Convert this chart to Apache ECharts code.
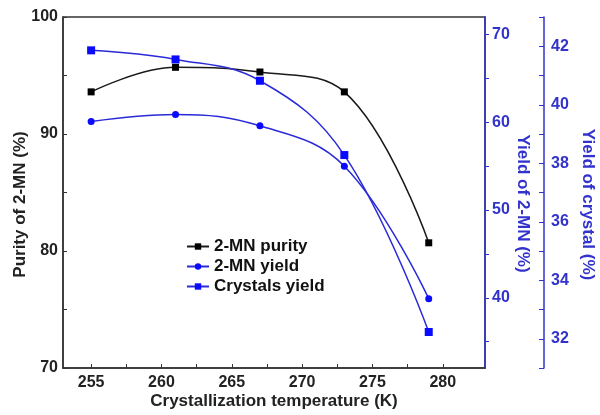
<!DOCTYPE html>
<html><head><meta charset="utf-8">
<script src="https://cdn.jsdelivr.net/npm/echarts@6/dist/echarts.min.js"></script>
<style>html,body{margin:0;padding:0;background:#fff}#c{width:600px;height:415px}</style>
</head><body><div id="c"></div>
<script>
// Data
const temperatures = [255, 261, 267, 273, 279];
const purity = [93.6, 95.7, 95.3, 93.6, 80.7];
const yield2MN = [60.1, 60.9, 59.6, 55.0, 39.9];
const crystalYield = [41.86, 41.55, 40.82, 38.28, 32.23];

const xLabels = [255, 260, 265, 270, 275, 280];
const xTicks = [255, 257.5, 260, 262.5, 265, 267.5, 270, 272.5, 275, 277.5, 280];
const purityLabels = [70, 80, 90, 100];
const purityTicks = [70, 75, 80, 85, 90, 95, 100];
const yieldLabels = [40, 50, 60, 70];
const yieldTicks = [35, 40, 45, 50, 55, 60, 65, 70];
const crystalLabels = [32, 34, 36, 38, 40, 42];
const crystalTicks = [31, 32, 33, 34, 35, 36, 37, 38, 39, 40, 41, 42, 43];

const FONT = '"Liberation Sans", Arial, sans-serif';
const DARK = '#222';
const BLUE = '#3232cc';
const LINEBLUE = '#2a2ad8';
const MARKBLUE = '#0a0aff';

const pairs = arr => temperatures.map((t, i) => [t, arr[i]]);

const chart = echarts.init(document.getElementById('c'), null, {renderer: 'canvas'});
chart.setOption({
  animation: false,
  backgroundColor: '#fff',
  grid: {left: 63, right: 115, top: 17, bottom: 47, containLabel: false, outerBoundsMode: 'none',
         show: true, borderColor: '#333', borderWidth: 1.5, backgroundColor: 'transparent'},
  legend: {
    orient: 'vertical', left: 181, top: 233, itemGap: 3, itemWidth: 22, itemHeight: 8,
    textStyle: {fontFamily: FONT, fontWeight: 'bold', fontSize: 17, color: '#111'},
    data: ['2-MN purity', '2-MN yield', 'Crystals yield']
  },
  xAxis: {
    type: 'value', min: 253, max: 283,
    name: 'Crystallization temperature (K)', nameLocation: 'middle', nameGap: 25, nameMoveOverlap: false,
    nameTextStyle: {fontFamily: FONT, fontWeight: 'bold', fontSize: 17, color: DARK},
    axisLine: {lineStyle: {color: '#333', width: 1.5}},
    axisTick: {inside: true, length: 4, customValues: xTicks, lineStyle: {color: '#333'}},
    axisLabel: {customValues: xLabels, margin: 7, fontFamily: FONT, fontWeight: 'bold', fontSize: 16, color: DARK},
    splitLine: {show: false}
  },
  yAxis: [
    {
      type: 'value', min: 70, max: 100, position: 'left',
      name: 'Purity of 2-MN (%)', nameLocation: 'middle', nameGap: 34, nameRotate: 90, nameMoveOverlap: false,
      nameTextStyle: {fontFamily: FONT, fontWeight: 'bold', fontSize: 17, color: DARK, padding: [0, 24, 0, 0]},
      axisLine: {show: true, lineStyle: {color: '#333', width: 1.5}},
      axisTick: {show: true, inside: true, length: 4, customValues: purityTicks, lineStyle: {color: '#333'}},
      axisLabel: {customValues: purityLabels, margin: 5, fontFamily: FONT, fontWeight: 'bold', fontSize: 16, color: DARK},
      splitLine: {show: false}
    },
    {
      type: 'value', min: 32, max: 72, position: 'right',
      name: 'Yield of 2-MN (%)', nameLocation: 'middle', nameGap: 29, nameRotate: -90, nameMoveOverlap: false,
      nameTextStyle: {fontFamily: FONT, fontWeight: 'bold', fontSize: 17, color: BLUE, padding: [0, 0, 0, 22]},
      axisLine: {show: true, lineStyle: {color: BLUE, width: 1.5}},
      axisTick: {show: true, inside: false, length: 4, customValues: yieldTicks, lineStyle: {color: BLUE}},
      axisLabel: {customValues: yieldLabels, margin: 7, fontFamily: FONT, fontWeight: 'bold', fontSize: 16, color: BLUE},
      splitLine: {show: false}
    },
    {
      type: 'value', min: 31, max: 43, position: 'right', offset: 59,
      name: 'Yield of crystal (%)', nameLocation: 'middle', nameGap: 35, nameRotate: -90, nameMoveOverlap: false,
      nameTextStyle: {fontFamily: FONT, fontWeight: 'bold', fontSize: 17, color: BLUE, padding: [0, 0, 0, 24]},
      axisLine: {show: true, lineStyle: {color: BLUE, width: 1.5}},
      axisTick: {show: true, inside: true, length: 5, customValues: crystalTicks, lineStyle: {color: BLUE}},
      axisLabel: {customValues: crystalLabels, margin: 7, fontFamily: FONT, fontWeight: 'bold', fontSize: 16, color: BLUE},
      splitLine: {show: false}
    }
  ],
  series: [
    {
      name: '2-MN purity', type: 'line', yAxisIndex: 0, data: pairs(purity), smooth: 0.4,
      symbol: 'rect', symbolSize: 7,
      lineStyle: {color: '#1a1a1a', width: 1.5}, itemStyle: {color: '#000'}
    },
    {
      name: '2-MN yield', type: 'line', yAxisIndex: 1, data: pairs(yield2MN), smooth: 0.4,
      symbol: 'circle', symbolSize: 7,
      lineStyle: {color: LINEBLUE, width: 1.5}, itemStyle: {color: MARKBLUE}
    },
    {
      name: 'Crystals yield', type: 'line', yAxisIndex: 2, data: pairs(crystalYield), smooth: 0.4,
      symbol: 'rect', symbolSize: 8,
      lineStyle: {color: LINEBLUE, width: 1.5}, itemStyle: {color: MARKBLUE}
    }
  ]
});
</script>
</body></html>
